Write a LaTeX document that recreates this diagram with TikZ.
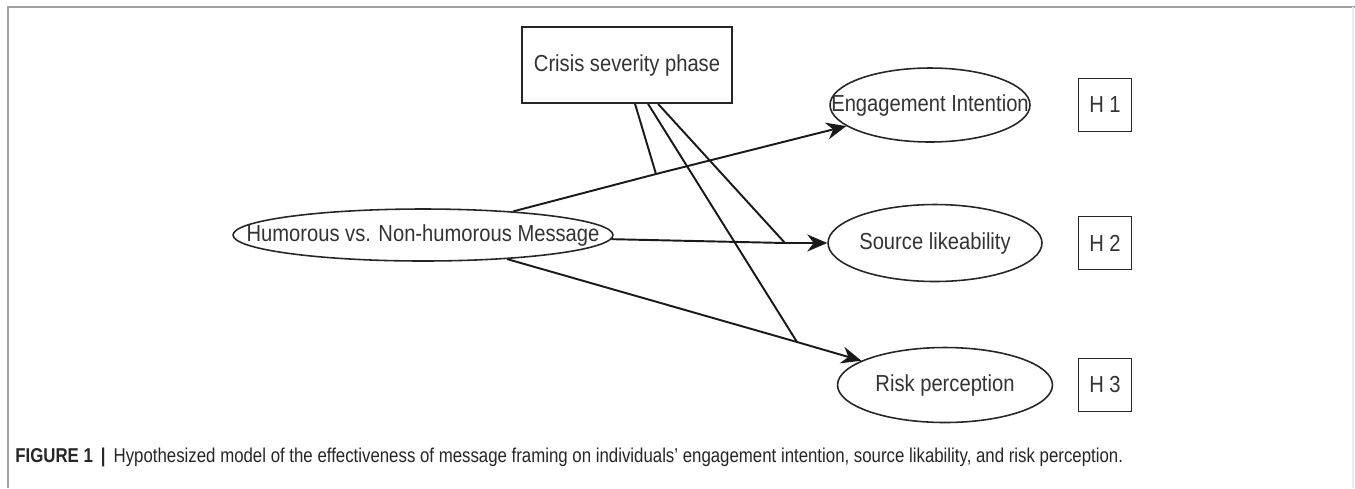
\documentclass[tikz,border=0pt]{standalone}
\usepackage{fontspec}
\setmainfont{Liberation Sans}
\newfontfamily\nodefont[FakeStretch=0.87]{Liberation Sans}
\newfontfamily\capfont[FakeStretch=0.84]{Liberation Sans}
\usetikzlibrary{shapes.geometric}
\usetikzlibrary{calc,arrows.meta}
\newcommand{\fitlabel}[1]{\makebox[0pt]{#1}} % text that does not widen its shape

\begin{document}
\begin{tikzpicture}[x=0.02cm, y=-0.02cm, >={Stealth[length=0.4cm, width=0.34cm]}] % one unit = one pixel of the figure

    % Styles for boxes, ellipses and paths
    \tikzset{box/.style={draw=black!85, line width=0.9pt, rectangle, inner sep=0pt, font=\nodefont\fontsize{13.2}{15}\selectfont, text=black!80}}
    \tikzset{var/.style={draw=black!85, line width=0.9pt, ellipse, inner sep=0pt, font=\nodefont\fontsize{13.2}{15}\selectfont, text=black!80}}
    \tikzset{path/.style={draw=black!90, line width=1.1pt}}

    % Page and frame
    \useasboundingbox (0,0) rectangle (1355,488);
    \draw[gray!75, line width=0.9pt] (8,488) -- (8,7) -- (1355,7);
    \draw[gray!15, line width=0.8pt] (1353,7) -- (1353,488);

    % Moderator and predictor
    \node [box, minimum width=4.2cm, minimum height=1.52cm] (crisis) at (627,65) {Crisis severity phase};
    \node [var, minimum width=7.6cm, minimum height=1.04cm] (humor) at (423,235) {\fitlabel{Humorous vs. Non-humorous Message}};

    % Outcomes
    \node [var, minimum width=4.0cm, minimum height=1.48cm] (engage) at (930,105) {\fitlabel{Engagement Intention}};
    \node [var, minimum width=4.28cm, minimum height=1.54cm] (source) at (935,243) {\fitlabel{Source likeability}};
    \node [var, minimum width=4.3cm, minimum height=1.5cm] (risk) at (945,385) {\fitlabel{Risk perception}};

    % Hypothesis labels
    \node [box, minimum size=1.06cm] (h1) at (1105,105) {H 1};
    \node [box, minimum size=1.06cm] (h2) at (1105,243) {H 2};
    \node [box, minimum size=1.06cm] (h3) at (1105,385) {H 3};

    % Points where the moderator meets the paths
    \coordinate (j_engage) at (656,174);
    \coordinate (j_source) at (785,243);
    \coordinate (j_risk) at (797,342);
    \coordinate (m_engage) at ($ (crisis.south) + (8,0) $);
    \coordinate (m_risk) at ($ (crisis.south) + (21,0) $);
    \coordinate (m_source) at ($ (crisis.south) + (31,0) $);

    % Direct paths with arrows
    \draw [path, ->] (humor) -- (j_engage) -- (engage);
    \draw [path, ->] (humor) -- (j_source) -- (source);
    \draw [path, ->] (humor) -- (j_risk) -- (risk);

    % Moderating lines
    \draw [path] (m_engage) -- (j_engage);
    \draw [path] (m_risk) -- (j_risk);
    \draw [path] (m_source) -- (j_source);

    % Caption
    \node [anchor=west, inner sep=0pt, text=black!85, font=\capfont\fontsize{11.4}{13}\selectfont] (caption) at (15,457)
      {\textbf{FIGURE 1}\, \textbf{|}\, Hypothesized model of the effectiveness of message framing on individuals’ engagement intention, source likability, and risk perception.};

\end{tikzpicture}
\end{document}
